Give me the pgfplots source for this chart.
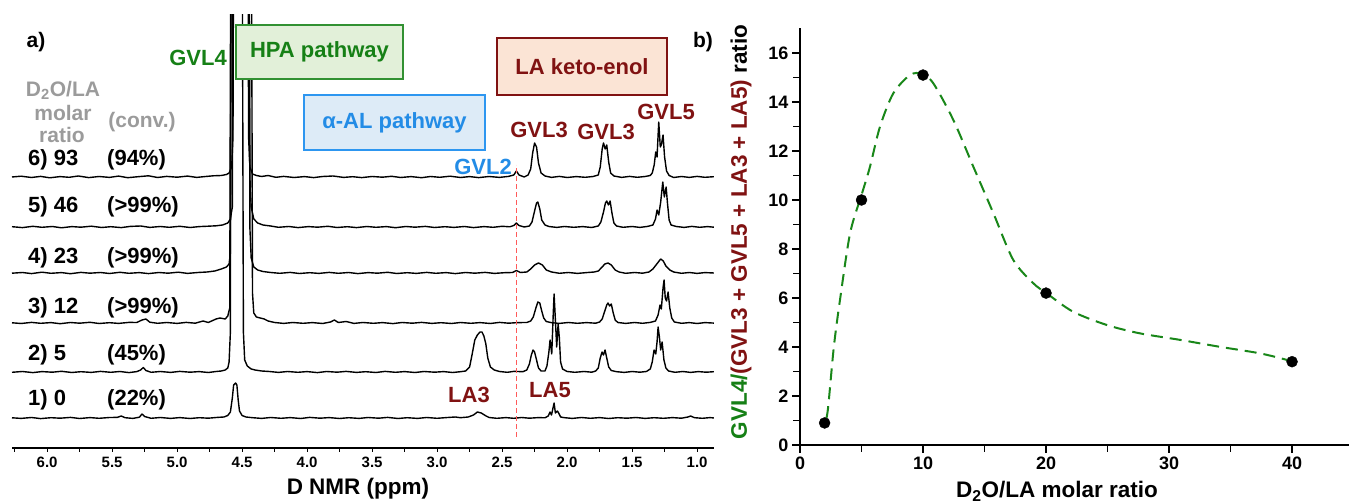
\documentclass[border=0pt]{standalone}
\usepackage{fontspec}
\setmainfont{Liberation Sans}
\usepackage{pgfplots}
\usepackage{pgfplotstable}
\pgfplotsset{compat=1.18}

\definecolor{gvlgreen}{RGB}{22,128,22}
\definecolor{hpaedge}{RGB}{50,145,50}
\definecolor{hpafill}{RGB}{226,240,217}
\definecolor{alblue}{RGB}{35,140,230}
\definecolor{aledge}{RGB}{45,150,240}
\definecolor{alfill}{RGB}{221,235,247}
\definecolor{ladark}{RGB}{128,18,18}
\definecolor{lafill}{RGB}{251,228,213}
\definecolor{labelgray}{RGB}{155,155,155}
\definecolor{refred}{RGB}{255,90,90}
\definecolor{fitgreen}{RGB}{25,135,25}

\newcommand{\fs}[1]{\fontsize{#1}{#1}\selectfont\bfseries}

% spectra: ppm, height above own baseline (px)
\pgfplotstableread{
x y
6.27 0
6.20 0.8
6.12 -0.5
6.05 0.6
5.98 -0.8
5.90 0.4
5.83 -0.3
5.76 1.0
5.68 -0.6
5.60 0.5
5.52 -0.4
5.45 0.9
5.38 -0.7
5.30 0.3
5.22 1.2
5.15 -0.5
5.08 0.6
5.00 -0.2
4.92 0.9
4.85 -0.4
4.78 0.5
4.72 1.2
4.66 1.5
4.62 2.5
4.60 4
4.58 10
4.57 40
4.56 500
4.46 500
4.45 40
4.44 10
4.42 3
4.39 1.5
4.35 0.5
4.30 1.5
4.24 -0.3
4.18 0.6
4.10 -0.5
4.02 0.4
3.95 -0.6
3.88 0.5
3.80 1.0
3.72 -0.4
3.65 0.3
3.58 -0.6
3.50 0.5
3.42 -0.2
3.35 0.7
3.28 -0.5
3.20 0.4
3.12 -0.7
3.05 0.5
2.98 -0.3
2.90 0.8
2.82 -0.5
2.75 0.4
2.68 -0.6
2.60 0.5
2.52 -0.4
2.45 0.6
2.41 2
2.39 6
2.37 2
2.33 0
2.30 2
2.28 8
2.265 24
2.25 34
2.235 30
2.22 14
2.20 4
2.17 1
2.12 -0.4
2.06 0.6
2.00 -0.5
1.93 0.4
1.86 -0.3
1.80 0.5
1.76 2
1.745 10
1.73 28
1.72 34
1.707 28
1.695 32
1.68 15
1.665 4
1.64 1
1.58 -0.4
1.52 0.6
1.46 -0.3
1.40 0.5
1.36 1.5
1.345 4
1.33 12
1.318 25
1.308 20
1.295 55
1.283 30
1.275 32
1.262 42
1.25 20
1.235 6
1.215 1.5
1.18 -0.5
1.12 0.5
1.06 -0.4
1.00 0.6
0.94 -0.3
0.87 0.3
}\specsix

\pgfplotstableread{
x y
6.27 0.3
6.19 -0.6
6.11 0.7
6.04 -0.3
5.96 0.5
5.89 -0.8
5.81 0.4
5.74 -0.2
5.66 0.8
5.58 -0.5
5.51 0.3
5.43 -0.6
5.36 0.6
5.28 1.0
5.21 -0.4
5.13 0.5
5.06 -0.3
4.98 0.7
4.90 -0.5
4.83 0.4
4.76 0.8
4.70 1.2
4.65 2
4.61 4
4.59 8
4.575 20
4.565 500
4.45 500
4.44 50
4.43 20
4.41 8
4.38 4
4.34 2
4.28 1
4.22 -0.3
4.14 0.5
4.07 -0.6
3.99 0.4
3.92 -0.2
3.84 0.7
3.77 -0.5
3.69 0.3
3.62 -0.6
3.54 0.5
3.47 -0.3
3.39 0.4
3.32 -0.7
3.24 0.5
3.17 -0.2
3.09 0.6
3.02 -0.5
2.94 0.3
2.87 -0.4
2.79 0.5
2.72 -0.6
2.64 0.4
2.57 -0.3
2.50 0.7
2.44 0.2
2.41 1.5
2.39 4
2.37 1.5
2.33 0
2.29 1
2.27 5
2.25 16
2.235 24
2.225 25
2.21 18
2.195 7
2.17 2
2.14 0.5
2.08 -0.4
2.02 0.5
1.95 -0.3
1.88 0.4
1.81 -0.5
1.76 1
1.74 5
1.72 15
1.705 24
1.695 26
1.682 22
1.669 26
1.655 14
1.64 4
1.62 1
1.57 -0.3
1.50 0.5
1.44 -0.4
1.38 0.6
1.34 2
1.32 8
1.308 17
1.295 12
1.28 25
1.264 45
1.252 30
1.238 40
1.228 24
1.215 7
1.20 2
1.16 0.5
1.10 -0.4
1.04 0.6
0.98 -0.3
0.92 0.4
0.87 -0.2
}\specfive

\pgfplotstableread{
x y
6.27 -0.2
6.19 0.5
6.12 -0.6
6.04 0.8
5.97 -0.3
5.89 0.4
5.82 -0.7
5.74 0.6
5.67 -0.2
5.59 0.5
5.52 -0.5
5.44 0.7
5.37 -0.3
5.29 0.4
5.22 -0.6
5.14 0.5
5.07 -0.2
4.99 0.8
4.92 -0.4
4.84 0.5
4.77 1.0
4.71 2
4.66 4
4.62 6
4.60 9
4.59 20
4.58 500
4.45 500
4.44 45
4.43 15
4.41 6
4.38 3
4.34 1.5
4.28 0.5
4.21 -0.3
4.13 0.6
4.06 -0.5
3.98 0.3
3.91 -0.4
3.83 0.6
3.76 -0.3
3.68 0.5
3.61 -0.6
3.53 0.4
3.46 -0.2
3.38 0.7
3.31 -0.5
3.23 0.3
3.16 -0.4
3.08 0.6
3.01 -0.3
2.93 0.4
2.86 -0.6
2.78 0.5
2.71 -0.2
2.63 0.6
2.56 -0.4
2.48 0.3
2.42 0.5
2.39 2.5
2.36 0.5
2.31 1
2.28 4
2.25 8
2.22 10
2.19 8
2.16 3
2.12 1
2.06 -0.3
1.99 0.5
1.92 -0.4
1.85 0.4
1.79 1
1.76 2
1.73 6
1.71 9
1.685 10
1.66 8
1.63 3
1.60 1
1.55 -0.3
1.48 0.5
1.42 -0.2
1.37 1
1.34 4
1.31 9
1.28 14
1.26 12
1.24 7
1.21 3
1.18 1
1.12 -0.3
1.06 0.5
1.00 -0.4
0.94 0.4
0.87 0
}\specfour

\pgfplotstableread{
x y
6.27 0.2
6.20 -0.5
6.12 0.6
6.05 -0.3
5.97 0.4
5.90 -0.7
5.82 0.5
5.75 -0.2
5.67 0.7
5.60 -0.5
5.52 0.3
5.45 -0.4
5.37 0.6
5.31 0.5
5.27 3
5.24 4
5.21 0.8
5.15 -0.3
5.08 0.5
5.00 -0.4
4.93 0.6
4.86 -0.2
4.80 2
4.76 0.5
4.70 4
4.67 5
4.63 4
4.61 7
4.595 15
4.585 500
4.43 500
4.42 30
4.41 10
4.39 6
4.36 5
4.33 4
4.30 2
4.25 0.5
4.18 -0.4
4.11 0.5
4.03 -0.3
3.96 0.4
3.88 -0.5
3.82 1
3.79 3
3.76 0.5
3.70 1.5
3.64 -0.4
3.57 0.5
3.49 -0.3
3.42 0.4
3.34 -0.6
3.27 0.5
3.19 -0.2
3.12 0.6
3.04 -0.4
2.97 0.3
2.89 -0.5
2.82 0.5
2.74 -0.3
2.67 0.4
2.59 -0.5
2.52 0.6
2.45 -0.2
2.38 0.4
2.31 0.5
2.28 2
2.26 6
2.24 15
2.225 21
2.21 20
2.195 12
2.18 5
2.16 1.5
2.12 0.3
2.06 -0.4
1.99 0.5
1.92 -0.3
1.85 0.4
1.78 -0.2
1.75 1
1.73 4
1.71 12
1.695 18
1.685 20
1.673 17
1.66 19
1.645 10
1.63 3
1.61 0.5
1.55 -0.4
1.48 0.5
1.42 -0.3
1.36 0.6
1.32 2
1.30 8
1.285 18
1.275 14
1.262 35
1.254 43
1.245 25
1.235 22
1.223 31
1.21 15
1.195 5
1.175 1
1.12 -0.3
1.06 0.4
1.00 -0.5
0.94 0.4
0.87 -0.1
}\specthree

\pgfplotstableread{
x y
6.27 -0.3
6.19 0.5
6.11 -0.6
6.04 0.4
5.96 -0.2
5.89 0.7
5.81 -0.5
5.74 0.3
5.66 -0.4
5.59 0.6
5.51 -0.3
5.44 0.5
5.37 -0.6
5.31 0.4
5.28 2
5.26 4.5
5.24 1.5
5.20 -0.3
5.13 0.5
5.05 -0.4
4.98 0.6
4.90 -0.2
4.83 0.4
4.76 -0.5
4.70 0.5
4.66 1
4.63 2
4.61 4
4.60 10
4.59 40
4.585 500
4.50 500
4.49 40
4.48 12
4.46 6
4.43 3
4.40 2
4.35 1
4.29 0.5
4.22 -0.4
4.15 0.5
4.07 -0.3
4.00 0.4
3.92 -0.6
3.85 0.5
3.77 -0.2
3.70 0.6
3.62 -0.4
3.55 0.3
3.47 -0.5
3.40 0.6
3.32 -0.3
3.25 0.4
3.17 -0.5
3.10 0.5
3.02 -0.2
2.95 0.4
2.88 -0.5
2.82 0.3
2.78 1
2.75 5
2.73 18
2.71 32
2.69 37
2.67 40
2.655 40
2.64 36
2.625 28
2.61 14
2.59 5
2.56 2
2.52 0.5
2.46 -0.3
2.41 0.6
2.38 0.5
2.34 0.3
2.31 2
2.29 8
2.275 17
2.262 22
2.25 20
2.235 12
2.22 4
2.20 1
2.17 1
2.155 6
2.14 20
2.131 32
2.118 18
2.106 60
2.10 78
2.093 60
2.08 25
2.069 48
2.06 35
2.05 10
2.035 3
2.00 0.5
1.94 -0.3
1.87 0.5
1.81 -0.2
1.78 1
1.76 4
1.745 14
1.731 20
1.72 17
1.708 22
1.695 14
1.68 5
1.66 1.5
1.62 0.3
1.56 -0.4
1.50 0.5
1.44 -0.2
1.39 0.5
1.36 3
1.345 10
1.331 22
1.318 18
1.308 30
1.30 45
1.29 35
1.28 22
1.269 30
1.255 12
1.24 4
1.22 1
1.17 -0.3
1.11 0.5
1.05 -0.4
0.99 0.4
0.93 -0.2
0.87 0.3
}\spectwo

\pgfplotstableread{
x y
6.27 0.2
6.20 -0.4
6.12 0.5
6.05 -0.6
5.97 0.3
5.90 -0.2
5.82 0.6
5.75 -0.5
5.67 0.4
5.60 -0.3
5.52 0.5
5.46 0.6
5.43 2
5.40 0.3
5.34 -0.4
5.29 0.8
5.27 4
5.25 1.5
5.20 -0.3
5.13 0.5
5.05 -0.4
4.98 0.4
4.90 -0.5
4.83 0.3
4.76 -0.2
4.70 0.5
4.64 1
4.61 2.5
4.59 6
4.575 20
4.565 33
4.55 35
4.54 33
4.53 18
4.52 7
4.50 2.5
4.47 1
4.42 0.3
4.35 -0.4
4.28 0.5
4.20 -0.3
4.13 0.4
4.05 -0.5
3.98 0.6
3.90 -0.2
3.83 0.4
3.75 -0.5
3.68 0.3
3.60 -0.4
3.53 0.5
3.45 -0.2
3.38 0.6
3.30 -0.5
3.23 0.3
3.15 -0.4
3.08 0.5
3.00 -0.3
2.93 0.4
2.86 1
2.82 0.3
2.76 1
2.72 3
2.69 6
2.66 5
2.63 2.5
2.60 0.5
2.54 -0.3
2.47 0.4
2.41 -0.3
2.35 0.5
2.29 -0.2
2.22 0.4
2.17 0.2
2.145 2
2.131 6
2.12 3
2.10 15
2.09 5
2.075 7
2.065 5
2.05 1
2.02 0.3
1.96 -0.4
1.89 0.5
1.82 -0.3
1.75 0.4
1.68 -0.5
1.61 0.3
1.54 -0.2
1.47 0.5
1.40 -0.4
1.33 0.3
1.26 -0.3
1.19 0.4
1.12 -0.2
1.07 1
1.05 2
1.02 0.3
0.96 -0.3
0.90 0.4
0.87 0
}\specone

\begin{document}
\begin{tikzpicture}[x=1pt,y=1pt]
% ---------------- panel a ----------------
\begin{axis}[
  at={(12pt,55pt)}, anchor=south west,
  scale only axis, width=702pt, height=433pt,
  xmin=0.87, xmax=6.27, ymin=0, ymax=433,
  x dir=reverse,
  axis x line=bottom, axis y line=none,
  axis line style={-, line width=1.4pt},
  xtick={1,1.5,...,6}, minor xtick={1.25,1.75,...,6.25},
  tick align=outside, major tick length=4pt, minor tick length=4pt,
  tick style={line width=1pt, black},
  xticklabel style={font=\fs{15}, yshift=-1.5pt},
  /pgf/number format/fixed, /pgf/number format/fixed zerofill,
  /pgf/number format/precision=1,
  /pgf/number format/assume math mode=true,
  spec/.style={black, line width=1.4pt, line join=round},
]
\addplot[spec] table[y expr=\thisrow{y}+30] {\specone};
\addplot[spec] table[y expr=\thisrow{y}+76] {\spectwo};
\addplot[spec] table[y expr=\thisrow{y}+125] {\specthree};
\addplot[spec] table[y expr=\thisrow{y}+175] {\specfour};
\addplot[spec] table[y expr=\thisrow{y}+221] {\specfive};
\addplot[spec] table[y expr=\thisrow{y}+271] {\specsix};
\addplot[refred, line width=1.2pt, dash pattern=on 5pt off 3pt] coordinates {(2.39,11) (2.39,283)};
\end{axis}

% ---------------- panel b ----------------
\begin{axis}[
  at={(800pt,58pt)}, anchor=south west,
  scale only axis, width=549pt, height=417pt,
  xmin=0, xmax=44.63, ymin=0, ymax=17.02,
  axis x line=bottom, axis y line=left,
  axis line style={-, line width=1.4pt},
  xtick={0,10,...,40}, minor xtick={5,15,25,35},
  ytick={0,2,...,16}, minor ytick={1,3,...,15},
  tick align=outside, major tick length=8pt, minor tick length=7pt,
  tick style={line width=1.2pt, black},
  ticklabel style={font=\fs{18}},
  /pgf/number format/assume math mode=true,
]
\addplot[fitgreen, line width=2pt, dash pattern=on 12pt off 7pt, smooth] coordinates {
  (2.15,1.1) (2.30,1.6) (2.75,4.0) (3.25,5.92) (4.07,8.64) (5.0,10.2) (5.69,11.36)
  (6.5,12.99) (7.58,14.35) (8.94,15.10) (9.9,15.15) (10.84,14.76) (12.46,13.27)
  (14.09,11.36) (15.72,9.46) (17.34,7.55) (18.97,6.6) (20.05,6.19) (22.2,5.44)
  (24.93,4.9) (27.6,4.56) (30.9,4.29) (34.1,4.01) (37.4,3.74) (39.6,3.47)
};
\addplot[only marks, mark=*, mark size=5.5pt, black] coordinates {
  (2,0.9) (5,10.0) (10,15.1) (20,6.2) (40,3.4)
};
\end{axis}

% ---------------- annotations (pt = px, y from bottom) ----------------
\node[font=\fs{21}] at (36,461) {a)};
\node[font=\fs{21}] at (703,461) {b)};
\node[font=\fs{22}, text=gvlgreen] at (198,445) {GVL4};

\draw[hpaedge, fill=hpafill, line width=1.8pt] (236,424) rectangle (403,478);
\node[font=\fs{22}, text=gvlgreen] at (319.5,451) {HPA pathway};
\draw[aledge, fill=alfill, line width=1.8pt] (304,353) rectangle (485,408);
\node[font=\fs{22}, text=alblue] at (394.5,380.5) {α-AL pathway};
\draw[ladark, fill=lafill, line width=1.8pt] (497,408) rectangle (667,465);
\node[font=\fs{22}, text=ladark] at (582,436.5) {LA keto-enol};

\node[font=\fs{21}, text=labelgray] at (63,413) {D\textsubscript{2}O/LA};
\node[font=\fs{21}, text=labelgray] at (63,390) {molar};
\node[font=\fs{21}, text=labelgray] at (62,368) {ratio};
\node[font=\fs{21}, text=labelgray] at (142,381) {(conv.)};

\foreach \yy/\aa/\bb in {343/6) 93/(94\%), 296/5) 46/(>99\%), 245/4) 23/(>99\%),
                         195/3) 12/(>99\%), 148/2) 5/(45\%), 103/1) 0/(22\%)} {
  \node[font=\fs{22}, anchor=west, inner sep=0pt] at (28,\yy) {\aa};
  \node[font=\fs{22}, anchor=west, inner sep=0pt] at (107,\yy) {\bb};
}

\node[font=\fs{22}, text=alblue] at (483,336) {GVL2};
\node[font=\fs{22}, text=ladark] at (539,373) {GVL3};
\node[font=\fs{22}, text=ladark] at (606,371) {GVL3};
\node[font=\fs{22}, text=ladark] at (666,391) {GVL5};
\node[font=\fs{22}, text=ladark] at (469,108) {LA3};
\node[font=\fs{22}, text=ladark] at (550,113) {LA5};

\node[font=\fs{22.5}] at (358,14) {D NMR (ppm)};
\node[font=\fs{22.5}] at (1057,12) {D\textsubscript{2}O/LA molar ratio};
\node[font=\fs{22.5}, rotate=90] at (741,271)
  {\textcolor{gvlgreen}{GVL4/}\textcolor{ladark}{(GVL3 + GVL5 + LA3 + LA5)} ratio};

\pgfresetboundingbox
\path[use as bounding box] (0,0) rectangle (1349,503);
\end{tikzpicture}
\end{document}
